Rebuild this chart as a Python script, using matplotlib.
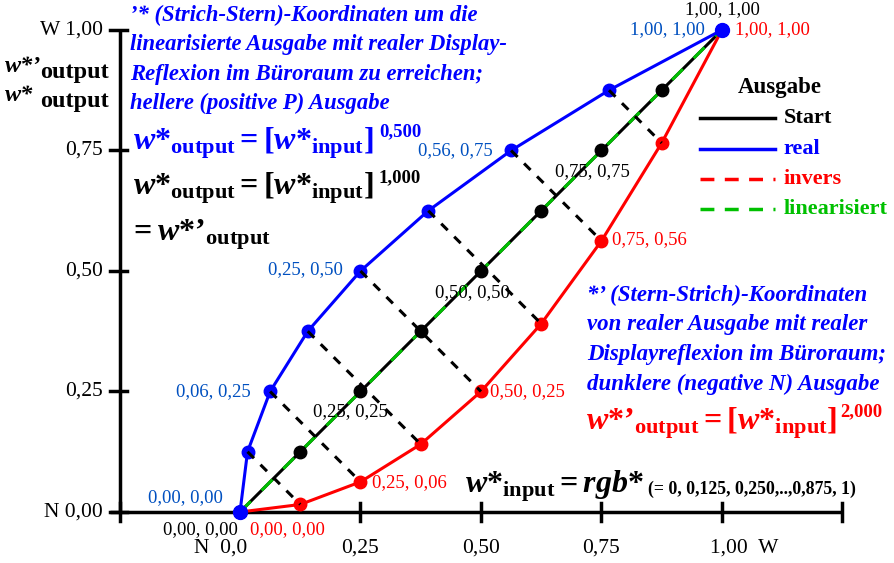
import matplotlib
matplotlib.use("Agg")
import matplotlib.pyplot as plt

plt.rcParams['font.family'] = ['Liberation Serif', 'DejaVu Serif']
plt.rcParams['mathtext.fontset'] = 'custom'
plt.rcParams['mathtext.rm'] = 'Liberation Serif:bold'
plt.rcParams['mathtext.it'] = 'Liberation Serif:italic:bold'
plt.rcParams['mathtext.bf'] = 'Liberation Serif:bold'

# data
w_input = [0.0, 0.125, 0.25, 0.375, 0.5, 0.625, 0.75, 0.875, 1.0]
real_x = [0.0, 0.0156, 0.0625, 0.1406, 0.25, 0.3906, 0.5625, 0.7656, 1.0]
real_y = [0.0, 0.125, 0.25, 0.375, 0.5, 0.625, 0.75, 0.875, 1.0]
inv_x = [0.0, 0.125, 0.25, 0.375, 0.5, 0.625, 0.75, 0.875, 1.0]
inv_y = [0.0, 0.0156, 0.0625, 0.1406, 0.25, 0.3906, 0.5625, 0.7656, 1.0]
xticks = [0.25, 0.5, 0.75]
xticklabels = ['0,25', '0,50', '0,75']
yticks = [0.0, 0.25, 0.5, 0.75, 1.0]
yticklabels = ['N 0,00', '0,25', '0,50', '0,75', 'W 1,00']
exponents = ['0,500', '1,000', '2,000']

BLUE = '#0000ff'
LBLUE = '#0050c0'
RED = '#ff0000'
GREEN = '#00c000'

fig = plt.figure(figsize=(8.94, 5.63), dpi=100)
ax = fig.add_axes([0, 0, 1, 1])
ax.set_xlim(-0.498, 1.357)
ax.set_ylim(-0.1058, 1.0622)
ax.axis('off')


def P(x, y):
    """pixel position (from top-left) -> data coordinates"""
    return (x - 240) / 482.0, (512 - y) / 482.0


# axes frame
ax.plot([-0.27, 1.25], [0, 0], color='black', lw=2.5, solid_capstyle='butt')
ax.plot([-0.25, -0.25], [0, 1.0], color='black', lw=2.5, solid_capstyle='butt')
for xt in [-0.25, 0.25, 0.5, 0.75, 1.0, 1.25]:
    ax.plot([xt, xt], [-0.018, 0.018], color='black', lw=2.5)
for yt in yticks:
    ax.plot([-0.27, -0.235], [yt, yt], color='black', lw=2.5)
for xt, lab in zip(xticks, xticklabels):
    ax.text(xt, -0.075, lab, ha='center', va='center', fontsize=15.5)
ax.text(0.015, -0.075, 'N  0,0', ha='right', va='center', fontsize=15.5)
ax.text(0.975, -0.075, '1,00  W', ha='left', va='center', fontsize=15.5)
for yt, lab in zip(yticks, yticklabels):
    ax.text(-0.285, yt, lab, ha='right', va='center', fontsize=15.5)

# dashed connectors
for i in range(1, 8):
    ax.plot([real_x[i], inv_x[i]], [real_y[i], inv_y[i]], color='black', lw=2.2,
            ls=(0, (3, 3)), zorder=5)

# curves
ax.plot(w_input, w_input, color='black', lw=2.2, zorder=3)
ax.plot(w_input, w_input, color=GREEN, lw=2.2, ls=(0, (5, 5)), zorder=3)
ax.plot(w_input[1:-1], w_input[1:-1], 'o', color='black', ms=9, zorder=4)
ax.plot(inv_x, inv_y, color=RED, lw=2.2, marker='o', ms=9, zorder=4)
ax.plot(real_x, real_y, color=BLUE, lw=2.2, marker='o', ms=9, zorder=4)
ax.plot([0, 1], [0, 1], 'o', color=BLUE, ms=10, zorder=6)

# point labels
fs = 13.5
ax.text(*P(722, 10), '1,00, 1,00', ha='center', va='center', fontsize=fs)
ax.text(*P(705, 30), '1,00, 1,00', ha='right', va='center', fontsize=fs, color=LBLUE)
ax.text(*P(735, 30), '1,00, 1,00', ha='left', va='center', fontsize=fs, color=RED)
ax.text(*P(493, 151), '0,56, 0,75', ha='right', va='center', fontsize=fs, color=LBLUE)
ax.text(*P(592, 172), '0,75, 0,75', ha='center', va='center', fontsize=fs)
ax.text(*P(612, 240), '0,75, 0,56', ha='left', va='center', fontsize=fs, color=RED)
ax.text(*P(343, 270), '0,25, 0,50', ha='right', va='center', fontsize=fs, color=LBLUE)
ax.text(*P(472, 293), '0,50, 0,50', ha='center', va='center', fontsize=fs)
ax.text(*P(490, 392), '0,50, 0,25', ha='left', va='center', fontsize=fs, color=RED)
ax.text(*P(251, 392), '0,06, 0,25', ha='right', va='center', fontsize=fs, color=LBLUE)
ax.text(*P(350, 412), '0,25, 0,25', ha='center', va='center', fontsize=fs)
ax.text(*P(372, 483), '0,25, 0,06', ha='left', va='center', fontsize=fs, color=RED)
ax.text(*P(223, 498), '0,00, 0,00', ha='right', va='center', fontsize=fs, color=LBLUE)
ax.text(*P(238, 530), '0,00, 0,00', ha='right', va='center', fontsize=fs)
ax.text(*P(250, 530), '0,00, 0,00', ha='left', va='center', fontsize=fs, color=RED)

# left y-label (pieces)
ax.text(*P(5, 72), "w*’", ha='left', va='baseline', fontsize=17.5,
        fontweight='bold', fontstyle='italic')
ax.text(*P(40, 78), "output", ha='left', va='baseline', fontsize=17.5, fontweight='bold')
ax.text(*P(5, 101), "w*", ha='left', va='baseline', fontsize=17.5,
        fontweight='bold', fontstyle='italic')
ax.text(*P(40, 107), "output", ha='left', va='baseline', fontsize=17.5, fontweight='bold')

# top-left blue text
tl = ["’* (Strich-Stern)-Koordinaten um die",
      "linearisierte Ausgabe mit realer Display-",
      "Reflexion im Büroraum zu erreichen;",
      "hellere (positive P) Ausgabe"]
for k, line in enumerate(tl):
    ax.text(-0.228, 1.03 - k * 0.061, line, ha='left', va='center', fontsize=16.3,
            color=BLUE, fontweight='bold', fontstyle='italic')

ax.text(*P(133, 143), r"$w{*}_{\mathrm{output}} = [w{*}_{\mathrm{input}}]$",
        ha='left', va='center', fontsize=23, color=BLUE)
ax.text(*P(379, 132), exponents[0], ha='left', va='center', fontsize=13.5,
        fontweight='bold', color=BLUE)
ax.text(*P(133, 188), r"$w{*}_{\mathrm{output}} = [w{*}_{\mathrm{input}}]$",
        ha='left', va='center', fontsize=23, color='black')
ax.text(*P(379, 178), exponents[1], ha='left', va='center', fontsize=13.5,
        fontweight='bold', color='black')
ax.text(*P(129, 235), r"$= w{*}’_{\mathrm{output}}$",
        ha='left', va='center', fontsize=23, color='black')

# right blue text
rt = ["*’ (Stern-Strich)-Koordinaten",
      "von realer Ausgabe mit realer",
      "Displayreflexion im Büroraum;",
      "dunklere (negative N) Ausgabe"]
for k, line in enumerate(rt):
    ax.text(0.72, 0.45 - k * 0.0615, line, ha='left', va='center', fontsize=16.5,
            color=BLUE, fontweight='bold', fontstyle='italic')
ax.text(*P(586, 423), r"$w{*}’_{\mathrm{output}} = [w{*}_{\mathrm{input}}]$",
        ha='left', va='center', fontsize=23, color=RED)
ax.text(*P(840, 412), exponents[2], ha='left', va='center', fontsize=13.5,
        fontweight='bold', color=RED)

# bottom formula
ax.text(*P(465, 486), r"$w{*}_{\mathrm{input}} = rgb{*}$", ha='left', va='center',
        fontsize=23, color='black')
ax.text(*P(648, 489), "(= 0, 0,125, 0,250,..,0,875, 1)", ha='left', va='center',
        fontsize=12.8, fontweight='bold')

# legend
ax.text(*P(780, 88), 'Ausgabe', ha='center', va='center', fontsize=16.5, fontweight='bold')
leg = [('Start', 'black', '-'), ('real', BLUE, '-'), ('invers', RED, (0, (4, 3))),
       ('linearisiert', GREEN, (0, (4, 3)))]
for k, (lab, col, ls) in enumerate(leg):
    yy = 0.817 - k * 0.063
    ax.plot([0.955, 1.11], [yy, yy], color=col, lw=2.5, ls=ls)
    ax.text(1.128, yy, lab, ha='left', va='center', fontsize=16, fontweight='bold', color=col)

fig.savefig('out.png', dpi=100)
